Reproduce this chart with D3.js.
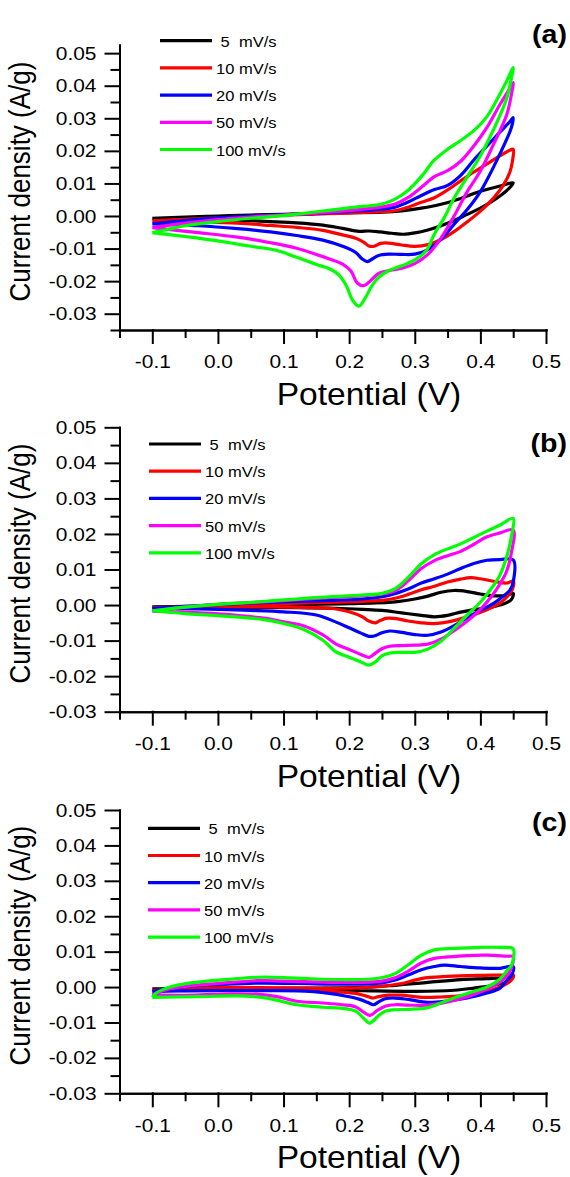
<!DOCTYPE html>
<html>
<head>
<meta charset="utf-8">
<script src="https://cdn.jsdelivr.net/npm/d3@7"></script>
<style>
  body { margin: 0; background: #fff; }
  text { font-family: "Liberation Sans", Arial, sans-serif; fill: #000; }
</style>
</head>
<body>
<div id="canvas"></div>
<script>
// scan rates (legend) and tick values
const rates = [" 5  mV/s", "10 mV/s", "20 mV/s", "50 mV/s", "100 mV/s"];
const xTicks = [-0.1, 0, 0.1, 0.2, 0.3, 0.4, 0.5];
const xMinor = [-0.15, -0.05, 0.05, 0.15, 0.25, 0.35, 0.45];
const yTicks = [-0.03, -0.02, -0.01, 0, 0.01, 0.02, 0.03, 0.04, 0.05];
const yMinorA = [-0.035, -0.025, -0.015, -0.005, 0.005, 0.015, 0.025, 0.035, 0.045];
const yMinorBC = [-0.025, -0.015, -0.005, 0.005, 0.015, 0.025, 0.035, 0.045];

// CV loops: [potential V, current A/g], anodic sweep then cathodic sweep
// panel (a)
const cvA5 = [[-0.1,-0.0007],[-0.05,-0.0003],[0,0],[0.05,0.0003],[0.1,0.0005],[0.15,0.0008],[0.2,0.001],[0.25,0.0012],[0.28,0.0016],[0.31,0.0024],[0.34,0.0036],[0.37,0.0054],[0.4,0.0076],[0.43,0.0092],[0.45,0.0102],
  [0.44,0.0078],[0.42,0.0048],[0.4,0.0024],[0.38,0.0005],[0.36,-0.0014],[0.34,-0.003],[0.32,-0.0043],[0.3,-0.0052],[0.283,-0.0056],[0.265,-0.0053],[0.247,-0.0049],[0.23,-0.0046],[0.215,-0.0047],[0.19,-0.0038],[0.16,-0.0028],[0.12,-0.0021],[0.08,-0.0017],[0.03,-0.0013],[-0.03,-0.001],[-0.1,-0.0007]];
const cvA10 = [[-0.1,-0.0015],[-0.05,-0.001],[0,-0.0006],[0.05,-0.0002],[0.1,0.0003],[0.15,0.0006],[0.2,0.0009],[0.25,0.0013],[0.27,0.0016],[0.29,0.0027],[0.31,0.0042],[0.33,0.0056],[0.35,0.008],[0.37,0.0108],[0.39,0.0135],[0.41,0.016],[0.43,0.0185],[0.445,0.0202],[0.45,0.0205],
  [0.449,0.017],[0.445,0.0135],[0.435,0.0095],[0.42,0.0055],[0.4,0.0015],[0.38,-0.0018],[0.36,-0.0048],[0.34,-0.0072],[0.32,-0.0088],[0.3,-0.0093],[0.28,-0.0089],[0.26,-0.0083],[0.248,-0.0084],[0.238,-0.0093],[0.23,-0.0092],[0.222,-0.008],[0.21,-0.0068],[0.19,-0.0058],[0.16,-0.0044],[0.12,-0.0035],[0.08,-0.0029],[0.03,-0.0022],[-0.03,-0.0018],[-0.1,-0.0015]];
const cvA20 = [[-0.1,-0.0024],[-0.05,-0.0014],[0,-0.0006],[0.05,0],[0.1,0.0004],[0.15,0.0008],[0.2,0.0014],[0.25,0.0021],[0.27,0.0027],[0.29,0.0043],[0.31,0.0063],[0.33,0.0081],[0.35,0.0094],[0.37,0.0125],[0.39,0.0172],[0.41,0.0215],[0.43,0.0258],[0.445,0.029],[0.45,0.0302],
  [0.447,0.027],[0.44,0.0235],[0.42,0.015],[0.4,0.0075],[0.38,0.002],[0.36,-0.0025],[0.34,-0.0072],[0.32,-0.0103],[0.3,-0.0117],[0.28,-0.0118],[0.26,-0.0117],[0.245,-0.0121],[0.235,-0.0132],[0.228,-0.014],[0.22,-0.0132],[0.21,-0.0112],[0.19,-0.0093],[0.16,-0.0074],[0.12,-0.006],[0.08,-0.0049],[0.03,-0.0039],[-0.03,-0.003],[-0.1,-0.0024]];
const cvA50 = [[-0.1,-0.0036],[-0.05,-0.0022],[0,-0.0011],[0.05,-0.0003],[0.1,0.0003],[0.15,0.0009],[0.2,0.0017],[0.25,0.0028],[0.27,0.0037],[0.29,0.0057],[0.31,0.0088],[0.33,0.0121],[0.35,0.0139],[0.37,0.0168],[0.39,0.0215],[0.41,0.0272],[0.43,0.0343],[0.445,0.0392],[0.45,0.041],
  [0.447,0.037],[0.44,0.031],[0.42,0.022],[0.4,0.0138],[0.38,0.0075],[0.36,0],[0.34,-0.0068],[0.32,-0.0118],[0.3,-0.0146],[0.28,-0.016],[0.26,-0.0168],[0.245,-0.0176],[0.232,-0.02],[0.222,-0.0214],[0.212,-0.0205],[0.203,-0.017],[0.19,-0.0148],[0.17,-0.0132],[0.15,-0.0118],[0.12,-0.0099],[0.08,-0.0082],[0.03,-0.0065],[-0.03,-0.0051],[-0.1,-0.0036]];
const cvA100 = [[-0.1,-0.0051],[-0.07,-0.0038],[-0.05,-0.003],[0,-0.0017],[0.05,-0.0007],[0.1,0.0001],[0.15,0.0013],[0.2,0.0025],[0.25,0.0037],[0.27,0.0052],[0.29,0.0079],[0.31,0.0121],[0.33,0.0172],[0.35,0.0205],[0.37,0.0232],[0.39,0.0262],[0.41,0.0305],[0.43,0.0375],[0.445,0.0435],[0.45,0.0456],
  [0.447,0.042],[0.44,0.036],[0.42,0.0265],[0.4,0.0185],[0.38,0.012],[0.36,0.0055],[0.345,-0.0005],[0.33,-0.0055],[0.318,-0.0105],[0.3,-0.0135],[0.28,-0.0153],[0.26,-0.0168],[0.245,-0.0188],[0.235,-0.0213],[0.225,-0.025],[0.215,-0.0277],[0.205,-0.0258],[0.196,-0.0215],[0.185,-0.0182],[0.17,-0.0162],[0.15,-0.0149],[0.12,-0.0127],[0.09,-0.0106],[0.05,-0.0093],[0.02,-0.0083],[-0.03,-0.0068],[-0.1,-0.0051]];
// panel (b)
const cvB5 = [[-0.1,-0.0005],[0,-0.0003],[0.1,0.0001],[0.2,0.0004],[0.27,0.0009],[0.3,0.0017],[0.32,0.0025],[0.34,0.0036],[0.36,0.0041],[0.38,0.0038],[0.4,0.0031],[0.42,0.0026],[0.44,0.0027],[0.45,0.0033],
  [0.447,0.0015],[0.43,0],[0.41,-0.0008],[0.39,-0.0013],[0.37,-0.002],[0.35,-0.0029],[0.33,-0.0033],[0.31,-0.0029],[0.28,-0.0022],[0.25,-0.0015],[0.22,-0.0012],[0.18,-0.0009],[0.12,-0.0007],[0,-0.0006],[-0.1,-0.0005]];
const cvB10 = [[-0.1,-0.0007],[0,-0.0002],[0.1,0.0004],[0.2,0.0009],[0.25,0.0013],[0.27,0.0019],[0.29,0.003],[0.31,0.0043],[0.33,0.0053],[0.35,0.0065],[0.37,0.0073],[0.385,0.0077],[0.4,0.0074],[0.42,0.0067],[0.44,0.0062],[0.45,0.0067],
  [0.449,0.0045],[0.44,0.0022],[0.43,0.0006],[0.41,-0.0013],[0.38,-0.0033],[0.355,-0.0046],[0.33,-0.0052],[0.31,-0.005],[0.29,-0.0045],[0.272,-0.0038],[0.258,-0.0037],[0.248,-0.0043],[0.24,-0.005],[0.23,-0.0045],[0.22,-0.0033],[0.2,-0.0019],[0.18,-0.0011],[0.14,-0.0007],[0.07,-0.0005],[-0.1,-0.0007]];
const cvB20 = [[-0.1,-0.0009],[-0.05,-0.0004],[0,0.0001],[0.07,0.0007],[0.15,0.0012],[0.22,0.0017],[0.26,0.0027],[0.29,0.0045],[0.31,0.0062],[0.33,0.0074],[0.35,0.0087],[0.37,0.0103],[0.39,0.0117],[0.41,0.0126],[0.43,0.0128],[0.45,0.0127],
  [0.45,0.0065],[0.445,0.0042],[0.43,0.0018],[0.42,0.0005],[0.4,-0.0015],[0.38,-0.0035],[0.36,-0.0058],[0.34,-0.0076],[0.32,-0.0085],[0.3,-0.0083],[0.28,-0.0077],[0.262,-0.0073],[0.25,-0.0078],[0.238,-0.0087],[0.23,-0.0088],[0.218,-0.0079],[0.2,-0.0064],[0.18,-0.0048],[0.15,-0.0028],[0.1,-0.0019],[0.05,-0.0015],[-0.03,-0.0011],[-0.1,-0.0009]];
const cvB50 = [[-0.1,-0.0017],[-0.05,-0.0006],[0,0.0002],[0.07,0.0009],[0.15,0.0019],[0.22,0.0026],[0.25,0.0031],[0.27,0.004],[0.29,0.0068],[0.31,0.0103],[0.33,0.0125],[0.35,0.0139],[0.37,0.0151],[0.39,0.0171],[0.41,0.0192],[0.43,0.0203],[0.45,0.0211],
  [0.447,0.0145],[0.44,0.0095],[0.43,0.006],[0.42,0.0032],[0.4,-0.0012],[0.38,-0.0045],[0.36,-0.0072],[0.34,-0.0096],[0.32,-0.011],[0.3,-0.0113],[0.28,-0.0114],[0.262,-0.0116],[0.25,-0.0123],[0.238,-0.0138],[0.23,-0.0147],[0.218,-0.0139],[0.2,-0.0125],[0.18,-0.011],[0.16,-0.0084],[0.13,-0.0058],[0.1,-0.0047],[0.07,-0.0037],[0,-0.0025],[-0.05,-0.002],[-0.1,-0.0017]];
const cvB100 = [[-0.1,-0.0016],[-0.05,-0.0006],[0,0.0002],[0.07,0.001],[0.15,0.0021],[0.22,0.0028],[0.25,0.0033],[0.27,0.0046],[0.29,0.0078],[0.31,0.0116],[0.33,0.0142],[0.35,0.0158],[0.37,0.0172],[0.39,0.019],[0.41,0.0208],[0.43,0.0225],[0.45,0.0244],
  [0.448,0.02],[0.445,0.0172],[0.44,0.0135],[0.43,0.0085],[0.42,0.0055],[0.4,0.0008],[0.38,-0.0028],[0.36,-0.0065],[0.34,-0.0102],[0.32,-0.0124],[0.3,-0.0133],[0.28,-0.0133],[0.262,-0.0135],[0.25,-0.0143],[0.24,-0.016],[0.23,-0.0169],[0.218,-0.016],[0.2,-0.0147],[0.18,-0.0132],[0.16,-0.0099],[0.13,-0.0068],[0.1,-0.0052],[0.07,-0.0041],[0,-0.003],[-0.05,-0.0024],[-0.1,-0.0016]];
// panel (c)
const cvC5 = [[-0.1,-0.0005],[0,-0.0004],[0.12,-0.0003],[0.22,-0.0001],[0.27,0.0005],[0.32,0.0013],[0.37,0.0021],[0.41,0.0024],[0.44,0.0027],[0.45,0.003],
  [0.44,0.0014],[0.42,0.0005],[0.39,-0.0003],[0.36,-0.0009],[0.3,-0.0012],[0.22,-0.001],[0.12,-0.0006],[0,-0.0005],[-0.1,-0.0005]];
const cvC10 = [[-0.1,-0.0009],[-0.05,-0.0004],[0,-0.0001],[0.1,-0.0002],[0.2,-0.0003],[0.25,0.0002],[0.28,0.001],[0.31,0.0024],[0.35,0.003],[0.4,0.0033],[0.44,0.0034],[0.45,0.0035],
  [0.448,0.0021],[0.43,0],[0.4,-0.0017],[0.37,-0.0025],[0.34,-0.0028],[0.31,-0.0029],[0.28,-0.0023],[0.26,-0.0023],[0.245,-0.0027],[0.236,-0.0031],[0.225,-0.0025],[0.21,-0.0018],[0.18,-0.0013],[0.14,-0.0008],[0.05,-0.0008],[-0.05,-0.001],[-0.1,-0.0009]];
const cvC20 = [[-0.1,-0.0013],[-0.07,-0.0003],[-0.04,0.0003],[0,0.0007],[0.06,0.0011],[0.12,0.001],[0.2,0.0008],[0.25,0.0012],[0.27,0.002],[0.29,0.0034],[0.31,0.0049],[0.33,0.0058],[0.345,0.0062],[0.37,0.0058],[0.4,0.0054],[0.43,0.0053],[0.45,0.0058],
  [0.448,0.0035],[0.44,0.0018],[0.43,-0.0003],[0.41,-0.0017],[0.38,-0.0031],[0.35,-0.0039],[0.32,-0.0043],[0.29,-0.0035],[0.27,-0.0031],[0.255,-0.0033],[0.245,-0.0042],[0.237,-0.005],[0.228,-0.0043],[0.215,-0.0034],[0.196,-0.0026],[0.17,-0.0018],[0.14,-0.0012],[0.08,-0.001],[0,-0.001],[-0.06,-0.0011],[-0.1,-0.0013]];
const cvC50 = [[-0.1,-0.0022],[-0.08,-0.0008],[-0.05,0.0002],[0,0.001],[0.06,0.0018],[0.1,0.0017],[0.2,0.0013],[0.25,0.0017],[0.27,0.0026],[0.29,0.0045],[0.31,0.0068],[0.33,0.0081],[0.35,0.0085],[0.38,0.0089],[0.41,0.009],[0.44,0.0087],[0.45,0.0086],
  [0.449,0.0065],[0.445,0.0045],[0.435,0.0021],[0.42,0.0003],[0.4,-0.0013],[0.38,-0.0027],[0.35,-0.0042],[0.32,-0.0051],[0.29,-0.0051],[0.27,-0.005],[0.255,-0.0054],[0.243,-0.0066],[0.232,-0.008],[0.222,-0.0071],[0.21,-0.0056],[0.19,-0.005],[0.16,-0.0045],[0.12,-0.004],[0.09,-0.0027],[0.06,-0.002],[0.02,-0.0019],[-0.04,-0.0023],[-0.1,-0.0022]];
const cvC100 = [[-0.1,-0.0029],[-0.095,-0.0018],[-0.085,-0.0008],[-0.06,0.0006],[-0.02,0.0016],[0.03,0.0024],[0.07,0.0028],[0.12,0.0025],[0.2,0.0021],[0.245,0.0025],[0.27,0.0038],[0.29,0.0063],[0.31,0.009],[0.33,0.0105],[0.36,0.0109],[0.4,0.0112],[0.43,0.0112],[0.45,0.0108],
  [0.45,0.0078],[0.447,0.006],[0.44,0.0045],[0.43,0.0023],[0.41,0],[0.38,-0.0018],[0.35,-0.0037],[0.32,-0.0058],[0.29,-0.0063],[0.27,-0.0064],[0.255,-0.0068],[0.245,-0.008],[0.238,-0.0093],[0.231,-0.0102],[0.222,-0.0088],[0.21,-0.0068],[0.19,-0.006],[0.16,-0.0057],[0.12,-0.005],[0.09,-0.0037],[0.07,-0.003],[0.03,-0.0025],[-0.03,-0.0027],[-0.1,-0.0029]];

const colors = ["#000000", "#ff0000", "#0000ff", "#ff00ff", "#00ff00"];

const panels = [
  { tag: "(a)", loops: [cvA5, cvA10, cvA20, cvA50, cvA100], top: 45, bottom: 330, yDom: [-0.035, 0.0525], yMinor: yMinorA, legX: 160, legY: 40.7, tagY: 43 },
  { tag: "(b)", loops: [cvB5, cvB10, cvB20, cvB50, cvB100], top: 427.3, bottom: 711.7, yDom: [-0.03, 0.05], yMinor: yMinorBC, legX: 149, legY: 444, tagY: 452 },
  { tag: "(c)", loops: [cvC5, cvC10, cvC20, cvC50, cvC100], top: 810, bottom: 1093.3, yDom: [-0.03, 0.05], yMinor: yMinorBC, legX: 148, legY: 828.3, tagY: 831 }
];

// the source figure is a little wider than tall, so text is widened a bit
const SX = 1.1;
function widen(sel) {
  sel.each(function () {
    const t = d3.select(this);
    const tx = +t.attr("x") || 0;
    const ty = +t.attr("y") || 0;
    t.attr("x", null).attr("y", null)
      .attr("transform", `translate(${tx},${ty}) scale(${SX},1)`);
  });
}

const svg = d3.select("#canvas").append("svg")
  .attr("width", 570).attr("height", 1177)
  .style("background", "#fff");

const x = d3.scaleLinear().domain([-0.15, 0.5]).range([119.5, 546]);

panels.forEach((p) => {
  const y = d3.scaleLinear().domain(p.yDom).range([p.bottom, p.top]);
  const g = svg.append("g");

  // curves
  const line = d3.line()
    .x((d) => x(d[0]))
    .y((d) => y(d[1]))
    .curve(d3.curveCatmullRom.alpha(0.5));

  g.selectAll(".cv")
    .data(p.loops)
    .join("path")
    .attr("class", "cv")
    .attr("d", line)
    .attr("fill", "none")
    .attr("stroke", (d, i) => colors[i])
    .attr("stroke-width", 3.2)
    .attr("stroke-linejoin", "round");

  // y axis (major + minor)
  g.append("g")
    .attr("transform", `translate(${x.range()[0]},0)`)
    .call(d3.axisLeft(y).tickValues(yTicks).tickSize(14).tickSizeOuter(0).tickPadding(9)
      .tickFormat((d) => d.toFixed(2)));
  g.append("g")
    .attr("transform", `translate(${x.range()[0]},0)`)
    .call(d3.axisLeft(y).tickValues(p.yMinor).tickSize(8).tickSizeOuter(0).tickFormat(""));

  // x axis (major + minor)
  g.append("g")
    .attr("transform", `translate(0,${p.bottom})`)
    .call(d3.axisBottom(x).tickValues(xTicks).tickSize(13).tickSizeOuter(0).tickPadding(12)
      .tickFormat((d) => d.toFixed(1)));
  g.append("g")
    .attr("transform", `translate(0,${p.bottom})`)
    .call(d3.axisBottom(x).tickValues(xMinor).tickSize(7).tickSizeOuter(0).tickFormat(""));

  g.selectAll(".domain, .tick line")
    .attr("stroke", "#000")
    .attr("stroke-width", 2)
    .attr("stroke-linecap", "square");
  g.selectAll("g").attr("font-family", null).attr("font-size", null);
  g.selectAll(".tick text").style("font-size", "19px").call(widen);

  // axis titles
  g.append("text")
    .attr("transform", `translate(30,${(p.top + p.bottom) / 2 - 6}) rotate(-90) scale(1,${SX})`)
    .attr("text-anchor", "middle")
    .style("font-size", "26px")
    .text("Current density (A/g)");

  g.append("text")
    .attr("x", 369)
    .attr("y", p.bottom + 75)
    .attr("text-anchor", "middle")
    .style("font-size", "30.5px")
    .text("Potential (V)")
    .call(widen);

  // panel tag
  g.append("text")
    .attr("x", 567)
    .attr("y", p.tagY)
    .attr("text-anchor", "end")
    .style("font-size", "26px")
    .style("font-weight", "bold")
    .text(p.tag)
    .call(widen);

  // legend
  const leg = g.selectAll(".leg")
    .data(rates)
    .join("g")
    .attr("class", "leg")
    .attr("transform", (d, i) => `translate(${p.legX},${p.legY + i * 27.2})`);

  leg.append("line")
    .attr("x1", 0).attr("x2", 52)
    .attr("stroke", (d, i) => colors[i])
    .attr("stroke-width", 3.2);

  leg.append("text")
    .attr("x", 56)
    .attr("y", 6)
    .style("font-size", "15px")
    .style("white-space", "pre")
    .text((d) => d)
    .call(widen);
});
</script>
</body>
</html>
